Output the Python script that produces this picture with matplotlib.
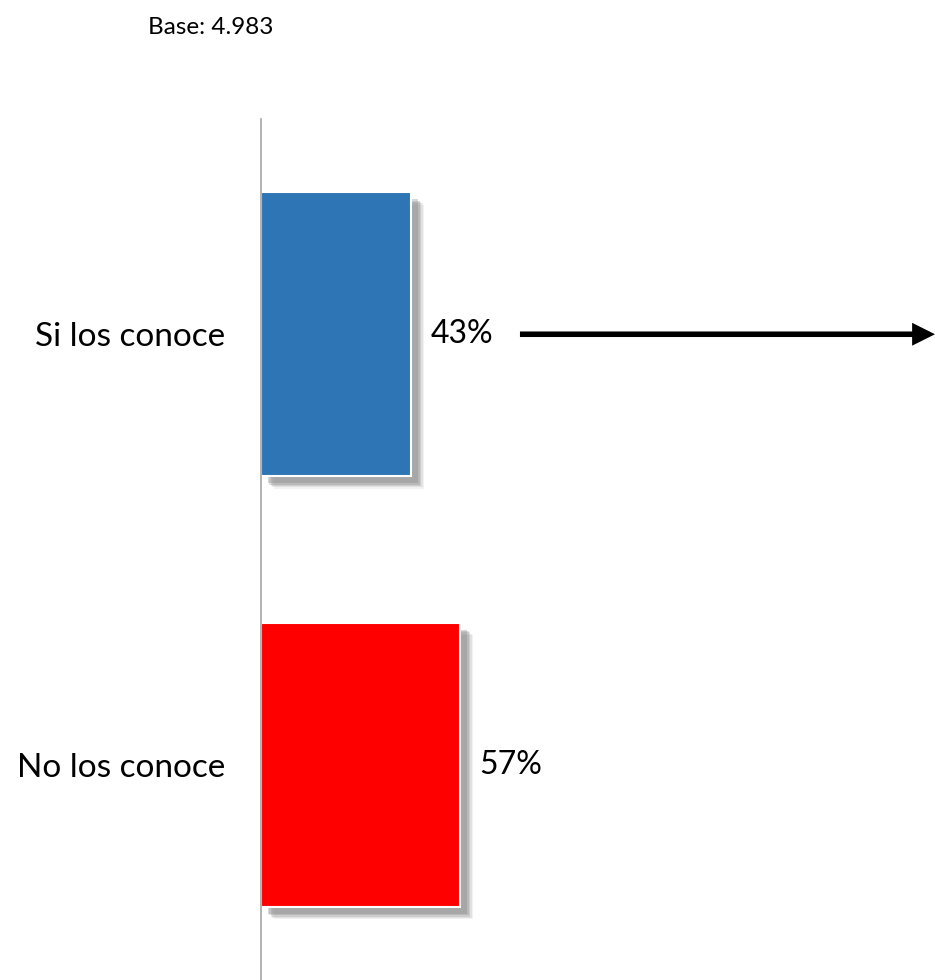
import matplotlib.pyplot as plt
import matplotlib.patheffects as pe

categories = ['Si los conoce', 'No los conoce']
values = [43, 57]
colors = ['#2E75B6', '#FF0000']
base_text = 'Base: 4.983'

plt.rcParams['font.family'] = ['Lato', 'DejaVu Sans']

fig = plt.figure(figsize=(9.35, 9.8), dpi=100)
ax = fig.add_axes([261 / 935, 0, 1 - 261 / 935, 1 - 119 / 980])

ypos = list(range(len(categories)))
bars = ax.barh(ypos, values, height=0.66, color=colors, edgecolor='white', linewidth=1.5)
# soft drop shadow built from a few offset layers
shadow = [pe.SimplePatchShadow(offset=(o, -o), shadow_rgbFace='#808080', alpha=a)
          for o, a in [(9, 0.10), (8, 0.15), (7, 0.2), (6, 0.25), (5, 0.3)]]
for b in bars:
    b.set_path_effects(shadow + [pe.Normal()])

ax.set_ylim(1.5, -0.5)
ax.set_xlim(0, 192.6)
ax.set_yticks(ypos)
ax.set_yticklabels(categories, fontsize=24)
ax.tick_params(axis='y', length=0, pad=26)
ax.set_xticks([])
for s in ['top', 'right', 'bottom']:
    ax.spines[s].set_visible(False)
ax.spines['left'].set_color('#a6a6a6')
ax.spines['left'].set_linewidth(1.2)

for y, v in zip(ypos, values):
    ax.text(v + 5.5, y, f'{v}%', va='center', ha='left', fontsize=23)

# arrow pointing to the right from the first label
ax.annotate('', xy=(1.0, 0), xycoords=('axes fraction', 'data'),
            xytext=(74, 0), textcoords='data',
            arrowprops=dict(arrowstyle='-|>,head_length=1.0,head_width=0.5',
                            color='black', lw=4, shrinkA=0, shrinkB=0,
                            capstyle='butt', joinstyle='miter'))

fig.text(148 / 935, 1 - 27 / 980, base_text, fontsize=17.5, va='center', ha='left')

fig.savefig('out.png', dpi=100)
